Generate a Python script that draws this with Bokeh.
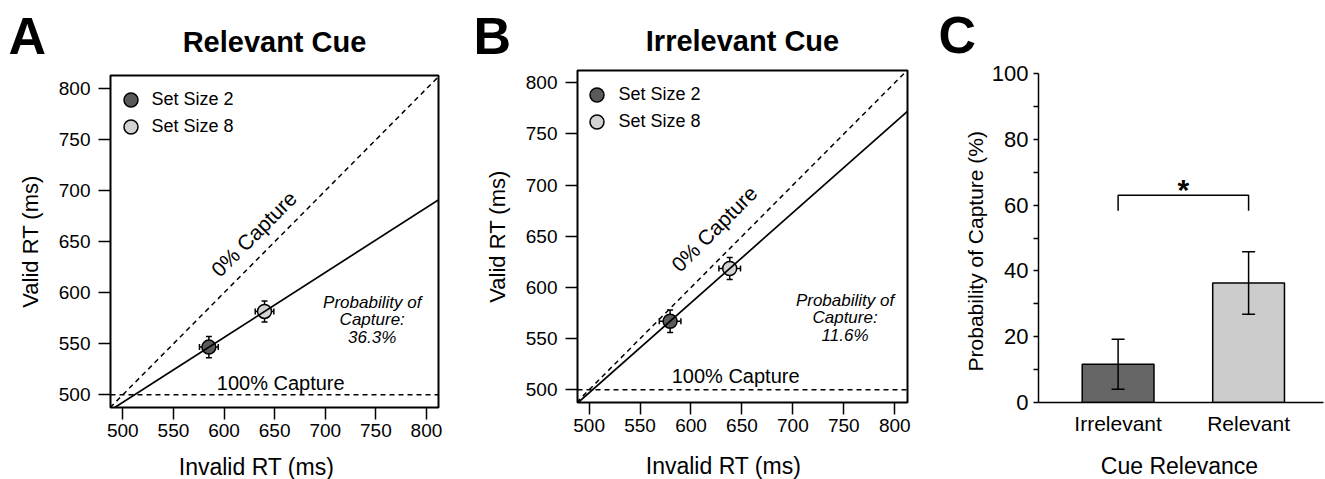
import math
from bokeh.plotting import figure
from bokeh.layouts import row, column
from bokeh.models import (ColumnDataSource, Whisker, TeeHead, Slope, Span, Label,
                          Legend, LegendItem, FixedTicker, Range1d)
from bokeh.embed import file_html
from bokeh.resources import INLINE

FONT = "Liberation Sans"

# ---------------- data ----------------
set_sizes = ["Set Size 2", "Set Size 8"]
marker_colors = ["#5a5a5a", "#d2d2d2"]

rel_invalid_rt = [585.0, 640.0]
rel_valid_rt = [546.7, 581.7]
rel_invalid_err = [9.3, 9.2]
rel_valid_err = [10.5, 10.3]

irr_invalid_rt = [579.5, 638.0]
irr_valid_rt = [567.0, 618.5]
irr_invalid_err = [10.6, 10.6]
irr_valid_err = [11.0, 10.8]

rt_ticks = [500, 550, 600, 650, 700, 750, 800]
capture_floor_rt = 500

capture_cats = ["Irrelevant", "Relevant"]
capture_mean = [11.6, 36.3]
capture_err = [7.6, 9.5]
bar_colors = ["#666666", "#cccccc"]
capture_ticks = [0, 20, 40, 60, 80, 100]
capture_minor = [10, 30, 50, 70, 90]
bracket_y = [58.3, 63.0]

W = 1325
H = 479
HEAD = 66          # header strip above panels A and B
BODY_END = 453     # bottom of the plot row
FOOT = H - BODY_END
AB_W = 936
CY_W = 52


def label(p, x, y, text, size, **kw):
    opts = dict(text_font=FONT, text_font_size=size, text_color="black",
                text_baseline="middle", text_align="center")
    opts.update(kw)
    p.add_layout(Label(x=x, y=y, text=text, **opts))


def noalign(p):
    try:
        p.frame_align = False
    except Exception:
        pass
    return p


def blank(width, height):
    f = figure(width=width, height=height, x_range=Range1d(0, width),
               y_range=Range1d(height, 0), output_backend="svg", toolbar_location=None,
               x_axis_type=None, y_axis_type=None,
               min_border_left=0, min_border_right=0, min_border_top=0, min_border_bottom=0)
    f.grid.visible = False
    f.outline_line_color = None
    return noalign(f)


# ---------------- header: panel letters and titles (A, B) ----------------
head = blank(AB_W, HEAD)
for x, t in ((8, "A"), (473, "B")):
    label(head, x, 35, t, "52px", text_font_style="bold", text_align="left")
for x, y, t in ((274, 41.7, "Relevant Cue"), (742, 40.7, "Irrelevant Cue")):
    label(head, x, y, t, "29px", text_font_style="bold")

# ---------------- footer: x-axis titles ----------------
foot = blank(W, FOOT)
for x, y, t in ((256, 13, "Invalid RT (ms)"), (723, 12.5, "Invalid RT (ms)"),
                (1179, 12, "Cue Relevance")):
    label(foot, x, y, t, "23px")


def rt_panel(width, height, borders, xr, yr, invalid, valid, ierr, verr, prob, g):
    bl, br, bt, bb = borders
    p = figure(width=width, height=height, x_range=Range1d(*xr), y_range=Range1d(*yr),
               output_backend="svg", toolbar_location=None,
               min_border_left=bl, min_border_right=br,
               min_border_top=bt, min_border_bottom=bb)
    noalign(p)
    p.grid.visible = False
    p.outline_line_color = "black"
    p.outline_line_width = 2
    for ax in (p.xaxis[0], p.yaxis[0]):
        ax.ticker = FixedTicker(ticks=rt_ticks, minor_ticks=[])
        ax.axis_line_color = None
        ax.major_tick_out = 12
        ax.major_tick_in = 0
        ax.major_tick_line_width = 1.5
        ax.major_tick_line_color = "black"
        ax.minor_tick_line_color = None
        ax.major_label_text_font = FONT
        ax.major_label_text_font_size = "19px"
        ax.major_label_text_color = "black"
    p.xaxis.major_label_standoff = 4
    p.yaxis.major_label_standoff = 8
    p.yaxis.axis_label = "Valid RT (ms)"
    p.yaxis.axis_label_text_font = FONT
    p.yaxis.axis_label_text_font_style = "normal"
    p.yaxis.axis_label_text_color = "black"
    p.yaxis.axis_label_text_font_size = "22px"
    p.yaxis.axis_label_standoff = 13

    # reference lines
    p.add_layout(Slope(gradient=1, y_intercept=0, line_color="black",
                       line_width=1.5, line_dash="5 4"))
    p.add_layout(Span(location=capture_floor_rt, dimension="width", line_color="black",
                      line_width=1.5, line_dash="5 4"))
    grad = (valid[1] - valid[0]) / (invalid[1] - invalid[0])
    icpt = valid[0] - grad * invalid[0]
    p.add_layout(Slope(gradient=grad, y_intercept=icpt, line_color="black", line_width=1.7))

    src = ColumnDataSource(dict(
        x=invalid, y=valid,
        xl=[a - e for a, e in zip(invalid, ierr)], xu=[a + e for a, e in zip(invalid, ierr)],
        yl=[a - e for a, e in zip(valid, verr)], yu=[a + e for a, e in zip(valid, verr)]))
    for dim, base, lo, up in (("height", "x", "yl", "yu"), ("width", "y", "xl", "xu")):
        p.add_layout(Whisker(source=src, base=base, lower=lo, upper=up, dimension=dim,
                             line_color="black", line_width=1.5,
                             upper_head=TeeHead(size=6, line_width=1.5),
                             lower_head=TeeHead(size=6, line_width=1.5)))

    for i, name in enumerate(set_sizes):
        s = ColumnDataSource(dict(x=[invalid[i]], y=[valid[i]]))
        r = p.scatter("x", "y", source=s, size=14, fill_color=marker_colors[i],
                      line_color="black", line_width=1.5)
        leg = Legend(items=[LegendItem(label=name, renderers=[r])], location=g["leg"][i],
                     glyph_width=35, glyph_height=35, spacing=0, padding=0, margin=0,
                     label_standoff=g["stand"], border_line_color=None,
                     background_fill_alpha=0, label_text_font=FONT,
                     label_text_font_size="18px", label_text_color="black")
        p.add_layout(leg)

    label(p, g["zero"][0], g["zero"][1], "0% Capture", "21px", angle=math.pi / 4)
    label(p, g["full"][0], g["full"][1], "100% Capture", "20px")
    lines = ["Probability of", "Capture:", "%.1f%%" % prob]
    for k, t in enumerate(lines):
        label(p, g["prob"][0], g["prob"][1][k], t, "17px", text_font_style="italic")
    return p


BODY_AB = BODY_END - HEAD
# frame A: x 110..438, y 75..407 ; frame B: x 576.7..906.7, y 70..402
pA = rt_panel(468, BODY_AB, (110, 30, 75 - HEAD, BODY_END - 407),
              (487.8, 811.9), (487.5, 813.0),
              rel_invalid_rt, rel_valid_rt, rel_invalid_err, rel_valid_err,
              capture_mean[1],
              dict(leg=[(2.5, 290.5), (2.5, 263.5)], stand=4,
                   zero=(629.4, 657.8), full=(656.0, 511.7),
                   prob=(746.4, [590.8, 573.6, 556.5])))

pB = rt_panel(AB_W - 468, BODY_AB, (109, 29, 70 - HEAD, BODY_END - 402),
              (488.6, 812.5), (487.6, 812.0),
              irr_invalid_rt, irr_valid_rt, irr_invalid_err, irr_valid_err,
              capture_mean[0],
              dict(leg=[(1.5, 290.2), (1.5, 262.8)], stand=5,
                   zero=(622.7, 657.4), full=(643.8, 513.2),
                   prob=(751.2, [587.3, 570.2, 553.0])))

# ---------------- panel C ----------------
cy = blank(CY_W, BODY_END)
label(cy, 2, 34.5, "C", "52px", text_font_style="bold", text_align="left")
label(cy, 39, 250.7, "Probability of Capture (%)", "21px", angle=math.pi / 2)

C_LEFT = AB_W + CY_W
pC = figure(width=W - C_LEFT, height=BODY_END, x_range=Range1d(-0.61, 1.574),
            y_range=Range1d(0, 100), output_backend="svg", toolbar_location=None,
            min_border_left=1036 - C_LEFT, min_border_right=2,
            min_border_top=73, min_border_bottom=BODY_END - 402)
noalign(pC)
pC.grid.visible = False
pC.outline_line_color = None

positions = list(range(len(capture_cats)))
csrc = ColumnDataSource(dict(
    x=positions, top=capture_mean, color=bar_colors,
    lo=[m - e for m, e in zip(capture_mean, capture_err)],
    hi=[m + e for m, e in zip(capture_mean, capture_err)]))
pC.vbar(x="x", top="top", width=0.55, source=csrc, fill_color="color",
        line_color="black", line_width=1.5)
pC.add_layout(Whisker(source=csrc, base="x", lower="lo", upper="hi", dimension="height",
                      line_color="black", line_width=1.5, level="annotation",
                      upper_head=TeeHead(size=13, line_width=1.5),
                      lower_head=TeeHead(size=13, line_width=1.5)))
pC.line(x=[positions[0], positions[0], positions[1], positions[1]],
        y=[bracket_y[0], bracket_y[1], bracket_y[1], bracket_y[0]],
        line_color="black", line_width=1.5)
label(pC, (positions[0] + positions[1]) / 2, 64.6, "*", "30px", text_font_style="bold")

ya = pC.yaxis[0]
ya.ticker = FixedTicker(ticks=capture_ticks, minor_ticks=capture_minor)
ya.major_tick_out = 5
ya.major_tick_in = 0
ya.minor_tick_out = 5
ya.minor_tick_in = 0
ya.axis_line_width = 1.5
ya.major_tick_line_width = 1.5
ya.minor_tick_line_width = 1.5
ya.major_label_text_font = FONT
ya.major_label_text_font_size = "22px"
ya.major_label_text_color = "black"
ya.major_label_standoff = 5

xa = pC.xaxis[0]
xa.ticker = FixedTicker(ticks=positions, minor_ticks=[])
xa.major_label_overrides = {positions[i]: capture_cats[i] for i in positions}
xa.major_tick_line_color = None
xa.major_tick_out = 0
xa.major_tick_in = 0
xa.minor_tick_line_color = None
xa.axis_line_width = 1.5
xa.major_label_text_font = FONT
xa.major_label_text_font_size = "21px"
xa.major_label_text_color = "black"
xa.major_label_standoff = 9

layout = column(row(column(head, row(pA, pB)), cy, pC), foot)
open("out.html", "w").write(file_html(layout, INLINE))
